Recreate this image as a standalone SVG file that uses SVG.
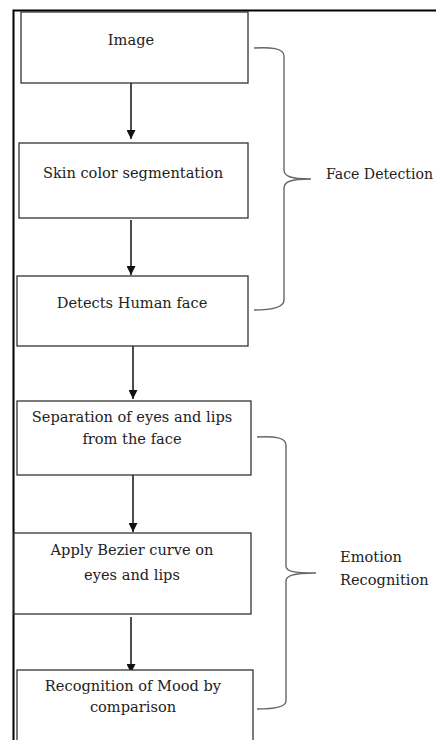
<svg xmlns="http://www.w3.org/2000/svg" width="436" height="740" viewBox="0 0 436 740">
<style>
.box{fill:#fff;stroke:#333;stroke-width:1.3}
.t{font-family:"DejaVu Serif","Liberation Serif",serif;font-size:14.6px;fill:#222;text-anchor:middle}
.tl{font-family:"DejaVu Serif","Liberation Serif",serif;font-size:14.6px;fill:#222}
.c{stroke:#111;stroke-width:1.5;fill:none;marker-end:url(#ah)}
.br{stroke:#666;stroke-width:1.4;fill:none}
</style>
<defs>
<marker id="ah" viewBox="0 0 10 10" refX="10" refY="5" markerWidth="9" markerHeight="9" orient="auto" markerUnits="userSpaceOnUse">
<path d="M0,0 L10,5 L0,10 Z" fill="#111"/>
</marker>
</defs>
<rect width="436" height="740" fill="#fff"/>
<g id="frame">
<path d="M13.5,740 L13.5,10.5 L436,10.5" fill="none" stroke="#000" stroke-width="2"/>
</g>
<g id="connectors">
<line class="c" x1="131" y1="83" x2="131" y2="139"/>
<line class="c" x1="131" y1="220" x2="131" y2="275"/>
<line class="c" x1="133" y1="342" x2="133" y2="399"/>
<line class="c" x1="133" y1="475" x2="133" y2="532"/>
<line class="c" x1="131" y1="617" x2="131" y2="673"/>
</g>
<g id="n1"><rect class="box" x="21" y="12" width="227" height="71"/><text class="t" x="131" y="45">Image</text></g>
<g id="n2"><rect class="box" x="19" y="143" width="229" height="75"/><text class="t" x="133" y="178">Skin color segmentation</text></g>
<g id="n3"><rect class="box" x="17" y="276" width="231" height="70"/><text class="t" x="132" y="308">Detects Human face</text></g>
<g id="n4"><rect class="box" x="17" y="401" width="234" height="74"/><text class="t" x="132" y="422">Separation of eyes and lips</text><text class="t" x="132" y="444">from the face</text></g>
<g id="n5"><rect class="box" x="14" y="533" width="237" height="81"/><text class="t" x="132" y="555">Apply Bezier curve on</text><text class="t" x="132" y="580">eyes and lips</text></g>
<g id="n6"><rect class="box" x="17" y="670" width="236" height="80"/><text class="t" x="133" y="691">Recognition of Mood by</text><text class="t" x="133" y="712">comparison</text></g>
<g id="brace1">
<path class="br" d="M254,48 C270,47 284,48 284,56 L284,170 C284,176 290,179 311,179 C290,179 284,182 284,188 L284,300 C284,308 270,310 254,310"/>
<text class="tl" x="326" y="179" textLength="107" lengthAdjust="spacingAndGlyphs">Face Detection</text>
</g>
<g id="brace2">
<path class="br" d="M257,437 C272,436 286,437 286,445 L286,566 C286,571 292,573 316,573 C292,573 286,576 286,581 L286,701 C286,707 272,709 257,709"/>
<text class="tl" x="340" y="562">Emotion</text>
<text class="tl" x="340" y="585">Recognition</text>
</g>
</svg>
